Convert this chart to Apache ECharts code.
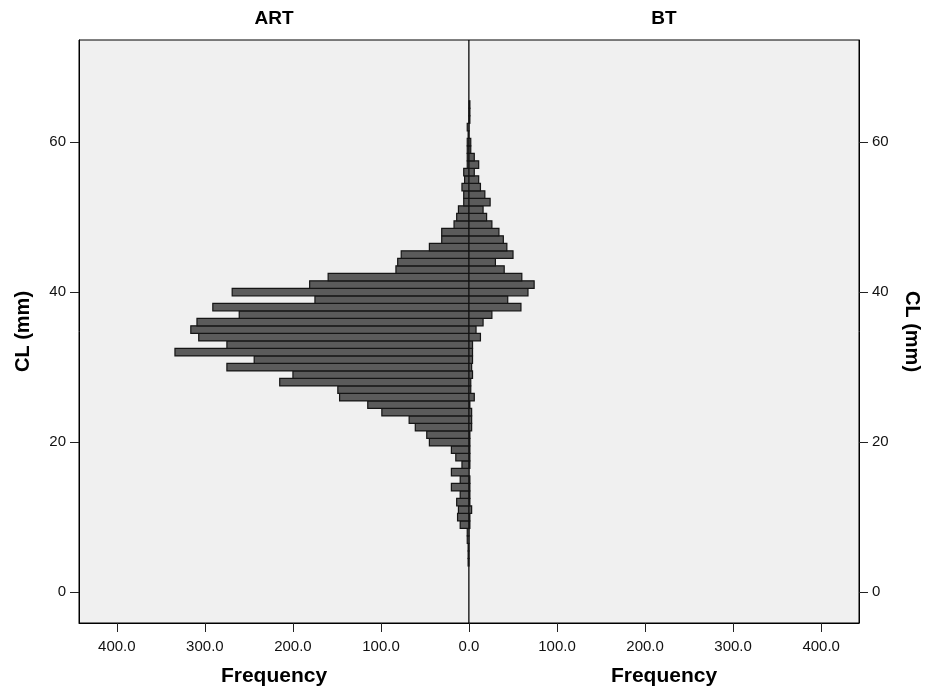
<!DOCTYPE html>
<html>
<head>
<meta charset="utf-8">
<script src="https://cdn.jsdelivr.net/npm/echarts@6/dist/echarts.min.js"></script>
<style>
  html, body { margin: 0; padding: 0; background: #fff; }
  #chart { width: 928px; height: 693px; }
</style>
</head>
<body>
<div id="chart"></div>
<script>
// CL bins (mm), one bar per bin
const clBins = [4, 5, 6, 7, 8, 9, 10, 11, 12, 13, 14, 15, 16, 17, 18, 19, 20, 21, 22, 23, 24,
  25, 26, 27, 28, 29, 30, 31, 32, 33, 34, 35, 36, 37, 38, 39, 40, 41, 42, 43, 44,
  45, 46, 47, 48, 49, 50, 51, 52, 53, 54, 55, 56, 57, 58, 59, 60, 61, 62, 63, 64, 65];
// ART frequencies (left panel)
const artFreq = [1, 1, 1, 2, 2, 10, 13, 12, 14, 10, 20, 10, 20, 8, 15, 20, 45, 48, 61, 68, 99,
  115, 147, 149, 215, 200, 275, 244, 334, 275, 307, 316, 309, 261, 291, 175, 269, 181, 160, 83, 81,
  77, 45, 31, 31, 17, 14, 12, 6, 6, 8, 5, 6, 2, 2, 2, 2, 1, 2, 0, 0, 0];
// BT frequencies (right panel)
const btFreq = [0, 0, 0, 0, 0, 1, 1, 3, 1, 1, 1, 1, 0, 1, 1, 1, 1, 1, 3, 3, 3,
  1, 6, 2, 2, 4, 3, 4, 4, 4, 13, 8, 16, 26, 59, 44, 67, 74, 60, 40, 30,
  50, 43, 39, 34, 26, 20, 16, 24, 18, 13, 11, 6, 11, 6, 2, 2, 0, 0, 1, 1, 1];
const freqTicks = [0, 100, 200, 300, 400];
const freqLabelsLeft = [0, 100, 200, 300, 400];
const freqLabelsRight = [100, 200, 300, 400];
const clTicks = [0, 20, 40, 60];

const font = '"Liberation Sans", Arial, sans-serif';

function renderBar(params, api) {
  let v = api.value(0), cl = api.value(1);
  if (!v) return null;
  let p0 = api.coord([0, cl + 0.5]);
  let p1 = api.coord([v, cl - 0.5]);
  return {
    type: 'rect',
    shape: {
      x: Math.min(p0[0], p1[0]),
      y: p0[1],
      width: Math.abs(p1[0] - p0[0]),
      height: p1[1] - p0[1]
    },
    style: { fill: '#5b5b5b', stroke: '#151515', lineWidth: 1.2 }
  };
}

function xAxisFor(idx, inverse, labels) {
  return {
    type: 'value', gridIndex: idx, min: 0, max: 443, inverse: inverse,
    name: 'Frequency', nameLocation: 'middle', nameGap: 43,
    nameTextStyle: { fontFamily: font, fontWeight: 'bold', fontSize: 21, color: '#000' },
    axisLine: { show: true, onZero: false, lineStyle: { color: '#000', width: 1 } },
    axisTick: { show: true, length: 9, customValues: freqTicks, lineStyle: { color: '#222' } },
    axisLabel: { customValues: labels, margin: 16, fontFamily: font, fontSize: 15, color: '#111',
      formatter: v => v.toFixed(1) },
    splitLine: { show: false }
  };
}

function yAxisFor(idx, pos) {
  return {
    type: 'value', gridIndex: idx, min: -4.1, max: 73.6, position: pos,
    name: 'CL (mm)', nameLocation: 'middle', nameGap: pos === 'left' ? 46 : 43,
    nameRotate: pos === 'left' ? 90 : -90,
    nameTextStyle: { fontFamily: font, fontWeight: 'bold', fontSize: 20, color: '#000' },
    axisLine: { show: true, onZero: false, lineStyle: { color: '#000', width: 1 } },
    axisTick: { show: true, length: 9, customValues: clTicks, lineStyle: { color: '#222' } },
    axisLabel: { customValues: clTicks, margin: 13, fontFamily: font, fontSize: 15, color: '#111' },
    splitLine: { show: false }
  };
}

let chart = echarts.init(document.getElementById('chart'), null, { renderer: 'canvas' });
chart.setOption({
  backgroundColor: '#fff',
  animation: false,
  graphic: [
    { type: 'text', x: 274, y: 9, style: { text: 'ART', textAlign: 'center', fontFamily: font, fontWeight: 'bold', fontSize: 19, fill: '#000' } },
    { type: 'text', x: 664, y: 9, style: { text: 'BT', textAlign: 'center', fontFamily: font, fontWeight: 'bold', fontSize: 19, fill: '#000' } }
  ],
  grid: [
    { left: 79, top: 40, width: 390, height: 583, show: true, backgroundColor: '#f0f0f0', borderColor: '#000', borderWidth: 1 },
    { left: 469, top: 40, width: 390, height: 583, show: true, backgroundColor: '#f0f0f0', borderColor: '#000', borderWidth: 1 }
  ],
  xAxis: [xAxisFor(0, true, freqLabelsLeft), xAxisFor(1, false, freqLabelsRight)],
  yAxis: [yAxisFor(0, 'left'), yAxisFor(1, 'right')],
  series: [
    {
      name: 'ART', type: 'custom', xAxisIndex: 0, yAxisIndex: 0,
      encode: { x: 0, y: 1 },
      data: clBins.map((c, i) => [artFreq[i], c]),
      renderItem: renderBar
    },
    {
      name: 'BT', type: 'custom', xAxisIndex: 1, yAxisIndex: 1,
      encode: { x: 0, y: 1 },
      data: clBins.map((c, i) => [btFreq[i], c]),
      renderItem: renderBar
    }
  ]
});
</script>
</body>
</html>
